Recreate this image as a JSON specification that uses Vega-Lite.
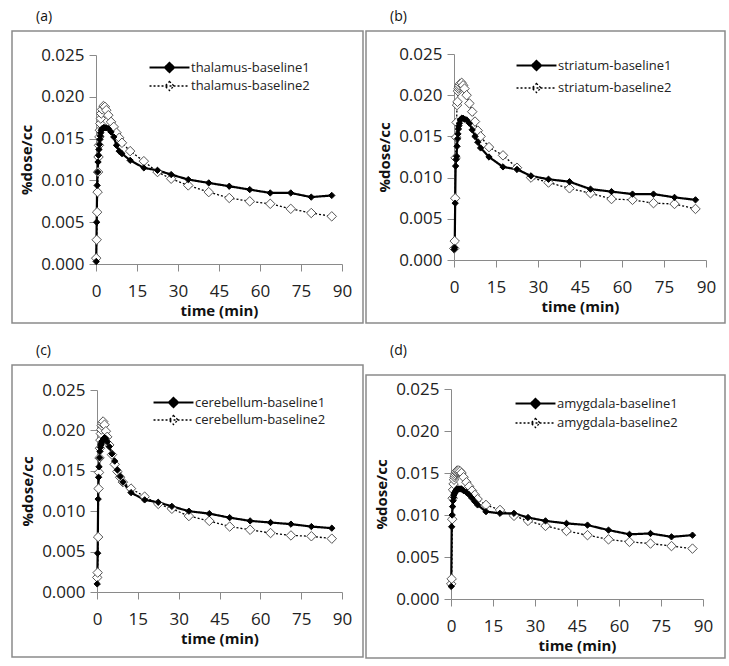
{
  "$schema": "https://vega.github.io/schema/vega-lite/v6.json",
  "background": "white",
  "padding": {"left": 11, "top": 9, "right": 0, "bottom": 0},
  "config": {
    "font": "Open Sans",
    "view": {"stroke": "#8a8a8a", "strokeWidth": 1.5, "fill": "white"},
    "axis": {"domainColor": "#8a8a8a", "tickColor": "#8a8a8a", "domainWidth": 1, "tickWidth": 1, "tickSize": 7, "grid": false,
      "labelFont": "Open Sans", "labelFontSize": 17, "labelColor": "#222", "titleFont": "Open Sans", "titleFontSize": 15, "titleFontWeight": "bold", "titleColor": "#111", "labelOverlap": false, "labelFlush": false},
    "legend": {"title": null, "orient": "none", "padding": 0, "symbolType": "M-3.33,0H3.33M0,-0.75L0.75,0L0,0.75L-0.75,0Z", "symbolSize": 144, "symbolStrokeColor": "black", "symbolStrokeWidth": 1.6, "labelFont": "Open Sans", "labelFontSize": 13, "labelColor": "#222", "labelOffset": 14},
    "title": {"font": "Open Sans", "fontSize": 14, "fontWeight": "normal", "color": "#111", "anchor": "start", "dx": 24, "offset": 7}
  },
  "datasets": {
    "a": [
      {"t": 0.08, "thalamus-baseline1": 0.0003, "thalamus-baseline2": 0.0007},
      {"t": 0.25, "thalamus-baseline1": 0.0050, "thalamus-baseline2": 0.0029},
      {"t": 0.42, "thalamus-baseline1": 0.0094, "thalamus-baseline2": 0.0062},
      {"t": 0.58, "thalamus-baseline1": 0.0110, "thalamus-baseline2": 0.0086},
      {"t": 0.75, "thalamus-baseline1": 0.0122, "thalamus-baseline2": 0.0110},
      {"t": 0.92, "thalamus-baseline1": 0.0130, "thalamus-baseline2": 0.0128},
      {"t": 1.08, "thalamus-baseline1": 0.0137, "thalamus-baseline2": 0.0142},
      {"t": 1.25, "thalamus-baseline1": 0.0143, "thalamus-baseline2": 0.0152},
      {"t": 1.42, "thalamus-baseline1": 0.0149, "thalamus-baseline2": 0.0160},
      {"t": 1.58, "thalamus-baseline1": 0.0153, "thalamus-baseline2": 0.0168},
      {"t": 1.75, "thalamus-baseline1": 0.0157, "thalamus-baseline2": 0.0174},
      {"t": 1.92, "thalamus-baseline1": 0.0160, "thalamus-baseline2": 0.0180},
      {"t": 2.25, "thalamus-baseline1": 0.0162, "thalamus-baseline2": 0.0185},
      {"t": 2.75, "thalamus-baseline1": 0.0163, "thalamus-baseline2": 0.0189},
      {"t": 3.25, "thalamus-baseline1": 0.0163, "thalamus-baseline2": 0.0188},
      {"t": 3.75, "thalamus-baseline1": 0.0163, "thalamus-baseline2": 0.0184},
      {"t": 4.5, "thalamus-baseline1": 0.0162, "thalamus-baseline2": 0.0178},
      {"t": 5.5, "thalamus-baseline1": 0.0158, "thalamus-baseline2": 0.0170},
      {"t": 6.5, "thalamus-baseline1": 0.0152, "thalamus-baseline2": 0.0164},
      {"t": 7.5, "thalamus-baseline1": 0.0142, "thalamus-baseline2": 0.0157},
      {"t": 8.5, "thalamus-baseline1": 0.0135, "thalamus-baseline2": 0.0151},
      {"t": 9.5, "thalamus-baseline1": 0.0132, "thalamus-baseline2": 0.0145},
      {"t": 12.5, "thalamus-baseline1": 0.0124, "thalamus-baseline2": 0.0135},
      {"t": 17.5, "thalamus-baseline1": 0.0115, "thalamus-baseline2": 0.0123},
      {"t": 22.5, "thalamus-baseline1": 0.0112, "thalamus-baseline2": 0.0110},
      {"t": 27.5, "thalamus-baseline1": 0.0107, "thalamus-baseline2": 0.0102},
      {"t": 33.75, "thalamus-baseline1": 0.0101, "thalamus-baseline2": 0.0094},
      {"t": 41.25, "thalamus-baseline1": 0.0097, "thalamus-baseline2": 0.0086},
      {"t": 48.75, "thalamus-baseline1": 0.0093, "thalamus-baseline2": 0.0079},
      {"t": 56.25, "thalamus-baseline1": 0.0089, "thalamus-baseline2": 0.0075},
      {"t": 63.75, "thalamus-baseline1": 0.0085, "thalamus-baseline2": 0.0072},
      {"t": 71.25, "thalamus-baseline1": 0.0085, "thalamus-baseline2": 0.0066},
      {"t": 78.75, "thalamus-baseline1": 0.0080, "thalamus-baseline2": 0.0061},
      {"t": 86.25, "thalamus-baseline1": 0.0082, "thalamus-baseline2": 0.0057}
    ],
    "b": [
      {"t": 0.08, "striatum-baseline1": 0.0013, "striatum-baseline2": 0.0014},
      {"t": 0.25, "striatum-baseline1": 0.0015, "striatum-baseline2": 0.0023},
      {"t": 0.42, "striatum-baseline1": 0.0069, "striatum-baseline2": 0.0075},
      {"t": 0.58, "striatum-baseline1": 0.0114, "striatum-baseline2": 0.0124},
      {"t": 0.75, "striatum-baseline1": 0.0122, "striatum-baseline2": 0.0149},
      {"t": 0.92, "striatum-baseline1": 0.0126, "striatum-baseline2": 0.0167},
      {"t": 1.08, "striatum-baseline1": 0.0138, "striatum-baseline2": 0.0188},
      {"t": 1.25, "striatum-baseline1": 0.0147, "striatum-baseline2": 0.0192},
      {"t": 1.42, "striatum-baseline1": 0.0153, "striatum-baseline2": 0.0205},
      {"t": 1.58, "striatum-baseline1": 0.0159, "striatum-baseline2": 0.0208},
      {"t": 1.75, "striatum-baseline1": 0.0163, "striatum-baseline2": 0.0210},
      {"t": 1.92, "striatum-baseline1": 0.0166, "striatum-baseline2": 0.0212},
      {"t": 2.25, "striatum-baseline1": 0.0170, "striatum-baseline2": 0.0214},
      {"t": 2.75, "striatum-baseline1": 0.0172, "striatum-baseline2": 0.0215},
      {"t": 3.25, "striatum-baseline1": 0.0172, "striatum-baseline2": 0.0212},
      {"t": 3.75, "striatum-baseline1": 0.0171, "striatum-baseline2": 0.0208},
      {"t": 4.5, "striatum-baseline1": 0.0170, "striatum-baseline2": 0.0200},
      {"t": 5.5, "striatum-baseline1": 0.0166, "striatum-baseline2": 0.0190},
      {"t": 6.5, "striatum-baseline1": 0.0158, "striatum-baseline2": 0.0180},
      {"t": 7.5, "striatum-baseline1": 0.0150, "striatum-baseline2": 0.0168},
      {"t": 8.5, "striatum-baseline1": 0.0143, "striatum-baseline2": 0.0157},
      {"t": 9.5, "striatum-baseline1": 0.0136, "striatum-baseline2": 0.0150},
      {"t": 12.5, "striatum-baseline1": 0.0125, "striatum-baseline2": 0.0137},
      {"t": 17.5, "striatum-baseline1": 0.0113, "striatum-baseline2": 0.0127},
      {"t": 22.5, "striatum-baseline1": 0.0110, "striatum-baseline2": 0.0112},
      {"t": 27.5, "striatum-baseline1": 0.0102, "striatum-baseline2": 0.0100},
      {"t": 33.75, "striatum-baseline1": 0.0098, "striatum-baseline2": 0.0094},
      {"t": 41.25, "striatum-baseline1": 0.0095, "striatum-baseline2": 0.0087},
      {"t": 48.75, "striatum-baseline1": 0.0086, "striatum-baseline2": 0.0081},
      {"t": 56.25, "striatum-baseline1": 0.0083, "striatum-baseline2": 0.0074},
      {"t": 63.75, "striatum-baseline1": 0.0080, "striatum-baseline2": 0.0073},
      {"t": 71.25, "striatum-baseline1": 0.0080, "striatum-baseline2": 0.0069},
      {"t": 78.75, "striatum-baseline1": 0.0076, "striatum-baseline2": 0.0068},
      {"t": 86.25, "striatum-baseline1": 0.0073, "striatum-baseline2": 0.0062}
    ],
    "c": [
      {"t": 0.08, "cerebellum-baseline1": 0.0010, "cerebellum-baseline2": 0.0018},
      {"t": 0.25, "cerebellum-baseline1": 0.0048, "cerebellum-baseline2": 0.0024},
      {"t": 0.42, "cerebellum-baseline1": 0.0115, "cerebellum-baseline2": 0.0068},
      {"t": 0.58, "cerebellum-baseline1": 0.0142, "cerebellum-baseline2": 0.0128},
      {"t": 0.75, "cerebellum-baseline1": 0.0155, "cerebellum-baseline2": 0.0148},
      {"t": 0.92, "cerebellum-baseline1": 0.0166, "cerebellum-baseline2": 0.0166},
      {"t": 1.08, "cerebellum-baseline1": 0.0174, "cerebellum-baseline2": 0.0178},
      {"t": 1.25, "cerebellum-baseline1": 0.0179, "cerebellum-baseline2": 0.0188},
      {"t": 1.42, "cerebellum-baseline1": 0.0182, "cerebellum-baseline2": 0.0196},
      {"t": 1.58, "cerebellum-baseline1": 0.0184, "cerebellum-baseline2": 0.0201},
      {"t": 1.75, "cerebellum-baseline1": 0.0186, "cerebellum-baseline2": 0.0206},
      {"t": 1.92, "cerebellum-baseline1": 0.0187, "cerebellum-baseline2": 0.0209},
      {"t": 2.25, "cerebellum-baseline1": 0.0189, "cerebellum-baseline2": 0.0211},
      {"t": 2.75, "cerebellum-baseline1": 0.0191, "cerebellum-baseline2": 0.0207},
      {"t": 3.25, "cerebellum-baseline1": 0.0190, "cerebellum-baseline2": 0.0199},
      {"t": 3.75, "cerebellum-baseline1": 0.0186, "cerebellum-baseline2": 0.0192},
      {"t": 4.5, "cerebellum-baseline1": 0.0180, "cerebellum-baseline2": 0.0182},
      {"t": 5.5, "cerebellum-baseline1": 0.0171, "cerebellum-baseline2": 0.0170},
      {"t": 6.5, "cerebellum-baseline1": 0.0162, "cerebellum-baseline2": 0.0158},
      {"t": 7.5, "cerebellum-baseline1": 0.0151, "cerebellum-baseline2": 0.0149},
      {"t": 8.5, "cerebellum-baseline1": 0.0143, "cerebellum-baseline2": 0.0142},
      {"t": 9.5, "cerebellum-baseline1": 0.0136, "cerebellum-baseline2": 0.0136},
      {"t": 12.5, "cerebellum-baseline1": 0.0123, "cerebellum-baseline2": 0.0128},
      {"t": 17.5, "cerebellum-baseline1": 0.0114, "cerebellum-baseline2": 0.0118},
      {"t": 22.5, "cerebellum-baseline1": 0.0111, "cerebellum-baseline2": 0.0109},
      {"t": 27.5, "cerebellum-baseline1": 0.0106, "cerebellum-baseline2": 0.0103},
      {"t": 33.75, "cerebellum-baseline1": 0.0100, "cerebellum-baseline2": 0.0094},
      {"t": 41.25, "cerebellum-baseline1": 0.0097, "cerebellum-baseline2": 0.0088},
      {"t": 48.75, "cerebellum-baseline1": 0.0092, "cerebellum-baseline2": 0.0081},
      {"t": 56.25, "cerebellum-baseline1": 0.0088, "cerebellum-baseline2": 0.0077},
      {"t": 63.75, "cerebellum-baseline1": 0.0086, "cerebellum-baseline2": 0.0073},
      {"t": 71.25, "cerebellum-baseline1": 0.0084, "cerebellum-baseline2": 0.0070},
      {"t": 78.75, "cerebellum-baseline1": 0.0081, "cerebellum-baseline2": 0.0069},
      {"t": 86.25, "cerebellum-baseline1": 0.0079, "cerebellum-baseline2": 0.0066}
    ],
    "d": [
      {"t": 0.08, "amygdala-baseline1": 0.0015, "amygdala-baseline2": 0.0018},
      {"t": 0.25, "amygdala-baseline1": 0.0086, "amygdala-baseline2": 0.0024},
      {"t": 0.42, "amygdala-baseline1": 0.0100, "amygdala-baseline2": 0.0095},
      {"t": 0.58, "amygdala-baseline1": 0.0110, "amygdala-baseline2": 0.0120},
      {"t": 0.75, "amygdala-baseline1": 0.0117, "amygdala-baseline2": 0.0130},
      {"t": 0.92, "amygdala-baseline1": 0.0121, "amygdala-baseline2": 0.0137},
      {"t": 1.08, "amygdala-baseline1": 0.0124, "amygdala-baseline2": 0.0142},
      {"t": 1.25, "amygdala-baseline1": 0.0126, "amygdala-baseline2": 0.0145},
      {"t": 1.42, "amygdala-baseline1": 0.0127, "amygdala-baseline2": 0.0147},
      {"t": 1.58, "amygdala-baseline1": 0.0128, "amygdala-baseline2": 0.0149},
      {"t": 1.75, "amygdala-baseline1": 0.0129, "amygdala-baseline2": 0.0151},
      {"t": 1.92, "amygdala-baseline1": 0.0130, "amygdala-baseline2": 0.0152},
      {"t": 2.25, "amygdala-baseline1": 0.0131, "amygdala-baseline2": 0.0153},
      {"t": 2.75, "amygdala-baseline1": 0.0131, "amygdala-baseline2": 0.0153},
      {"t": 3.25, "amygdala-baseline1": 0.0131, "amygdala-baseline2": 0.0152},
      {"t": 3.75, "amygdala-baseline1": 0.0131, "amygdala-baseline2": 0.0150},
      {"t": 4.5, "amygdala-baseline1": 0.0129, "amygdala-baseline2": 0.0145},
      {"t": 5.5, "amygdala-baseline1": 0.0127, "amygdala-baseline2": 0.0139},
      {"t": 6.5, "amygdala-baseline1": 0.0124, "amygdala-baseline2": 0.0134},
      {"t": 7.5, "amygdala-baseline1": 0.0120, "amygdala-baseline2": 0.0129},
      {"t": 8.5, "amygdala-baseline1": 0.0116, "amygdala-baseline2": 0.0124},
      {"t": 9.5, "amygdala-baseline1": 0.0112, "amygdala-baseline2": 0.0119},
      {"t": 12.5, "amygdala-baseline1": 0.0104, "amygdala-baseline2": 0.0112},
      {"t": 17.5, "amygdala-baseline1": 0.0102, "amygdala-baseline2": 0.0106},
      {"t": 22.5, "amygdala-baseline1": 0.0102, "amygdala-baseline2": 0.0099},
      {"t": 27.5, "amygdala-baseline1": 0.0097, "amygdala-baseline2": 0.0093},
      {"t": 33.75, "amygdala-baseline1": 0.0093, "amygdala-baseline2": 0.0087},
      {"t": 41.25, "amygdala-baseline1": 0.0090, "amygdala-baseline2": 0.0081},
      {"t": 48.75, "amygdala-baseline1": 0.0088, "amygdala-baseline2": 0.0076},
      {"t": 56.25, "amygdala-baseline1": 0.0082, "amygdala-baseline2": 0.0071},
      {"t": 63.75, "amygdala-baseline1": 0.0077, "amygdala-baseline2": 0.0068},
      {"t": 71.25, "amygdala-baseline1": 0.0078, "amygdala-baseline2": 0.0066},
      {"t": 78.75, "amygdala-baseline1": 0.0074, "amygdala-baseline2": 0.0063},
      {"t": 86.25, "amygdala-baseline1": 0.0076, "amygdala-baseline2": 0.0060}
    ]
  },
  "columns": 2,
  "align": "none",
  "spacing": {"row": 19, "column": 1},
  "resolve": {"scale": {"strokeDash": "independent", "strokeWidth": "independent"}, "legend": {"strokeDash": "independent"}},
  "concat": [
    {
      "width": 351, "height": 292,
      "title": {"text": "(a)"},
      "data": {"name": "a"},
      "transform": [{"fold": ["thalamus-baseline1", "thalamus-baseline2"], "as": ["s", "v"]}],
      "encoding": {
        "x": {"field": "t", "type": "quantitative", "scale": {"domain": [0, 90], "range": [84, 330], "nice": false, "zero": false},
          "axis": {"title": "time (min)", "values": [0, 15, 30, 45, 60, 75, 90], "offset": -59, "labelPadding": 12, "titlePadding": 4}},
        "y": {"field": "v", "type": "quantitative", "scale": {"domain": [0, 0.025], "range": [233, 24], "nice": false},
          "axis": {"title": "%dose/cc", "values": [0, 0.005, 0.01, 0.015, 0.02, 0.025], "format": ".3f", "offset": -84, "labelPadding": 5, "titlePadding": 6}}
      },
      "layer": [
        {"mark": {"type": "line", "color": "black"},
          "encoding": {
            "strokeDash": {"field": "s", "type": "nominal", "scale": {"domain": ["thalamus-baseline1", "thalamus-baseline2"], "range": [[1, 0], [2, 2]]},
              "legend": {"legendX": 150, "legendY": 29, "rowPadding": 1,
                "encode": {"symbols": {"update": {"stroke": {"value": "black"}, "fill": {"signal": "indexof(datum.value, 'baseline1') >= 0 ? 'black' : 'white'"}, "strokeWidth": {"signal": "indexof(datum.value, 'baseline1') >= 0 ? 2 : 1.3"}}}}}},
            "strokeWidth": {"field": "s", "type": "ordinal", "scale": {"domain": ["thalamus-baseline1", "thalamus-baseline2"], "range": [2.2, 1.3]}, "legend": null}
          }},
        {"transform": [{"filter": "datum.s == 'thalamus-baseline2'"}],
          "mark": {"type": "point", "shape": "diamond", "filled": true, "fill": "white", "stroke": "#555", "strokeWidth": 1, "size": 90, "opacity": 1}},
        {"transform": [{"filter": "datum.s == 'thalamus-baseline1'"}],
          "mark": {"type": "point", "shape": "diamond", "filled": true, "fill": "black", "stroke": "black", "strokeWidth": 1, "size": 40, "opacity": 1}}
      ]
    },
    {
      "width": 359, "height": 292,
      "title": {"text": "(b)"},
      "data": {"name": "b"},
      "transform": [{"fold": ["striatum-baseline1", "striatum-baseline2"], "as": ["s", "v"]}],
      "encoding": {
        "x": {"field": "t", "type": "quantitative", "scale": {"domain": [0, 90], "range": [88, 340], "nice": false, "zero": false},
          "axis": {"title": "time (min)", "values": [0, 15, 30, 45, 60, 75, 90], "offset": -63, "labelPadding": 12, "titlePadding": 4}},
        "y": {"field": "v", "type": "quantitative", "scale": {"domain": [0, 0.025], "range": [229, 23], "nice": false},
          "axis": {"title": "%dose/cc", "values": [0, 0.005, 0.01, 0.015, 0.02, 0.025], "format": ".3f", "offset": -88, "labelPadding": 5, "titlePadding": 6}}
      },
      "layer": [
        {"mark": {"type": "line", "color": "black"},
          "encoding": {
            "strokeDash": {"field": "s", "type": "nominal", "scale": {"domain": ["striatum-baseline1", "striatum-baseline2"], "range": [[1, 0], [2, 2]]},
              "legend": {"legendX": 163, "legendY": 27, "rowPadding": 5,
                "encode": {"symbols": {"update": {"stroke": {"value": "black"}, "fill": {"signal": "indexof(datum.value, 'baseline1') >= 0 ? 'black' : 'white'"}, "strokeWidth": {"signal": "indexof(datum.value, 'baseline1') >= 0 ? 2 : 1.3"}}}}}},
            "strokeWidth": {"field": "s", "type": "ordinal", "scale": {"domain": ["striatum-baseline1", "striatum-baseline2"], "range": [2.2, 1.3]}, "legend": null}
          }},
        {"transform": [{"filter": "datum.s == 'striatum-baseline2'"}],
          "mark": {"type": "point", "shape": "diamond", "filled": true, "fill": "white", "stroke": "#555", "strokeWidth": 1, "size": 90, "opacity": 1}},
        {"transform": [{"filter": "datum.s == 'striatum-baseline1'"}],
          "mark": {"type": "point", "shape": "diamond", "filled": true, "fill": "black", "stroke": "black", "strokeWidth": 1, "size": 40, "opacity": 1}}
      ]
    },
    {
      "width": 351, "height": 292,
      "title": {"text": "(c)"},
      "data": {"name": "c"},
      "transform": [{"fold": ["cerebellum-baseline1", "cerebellum-baseline2"], "as": ["s", "v"]}],
      "encoding": {
        "x": {"field": "t", "type": "quantitative", "scale": {"domain": [0, 90], "range": [85, 330], "nice": false, "zero": false},
          "axis": {"title": "time (min)", "values": [0, 15, 30, 45, 60, 75, 90], "offset": -65, "labelPadding": 12, "titlePadding": 4}},
        "y": {"field": "v", "type": "quantitative", "scale": {"domain": [0, 0.025], "range": [227, 25], "nice": false},
          "axis": {"title": "%dose/cc", "values": [0, 0.005, 0.01, 0.015, 0.02, 0.025], "format": ".3f", "offset": -85, "labelPadding": 5, "titlePadding": 6}}
      },
      "layer": [
        {"mark": {"type": "line", "color": "black"},
          "encoding": {
            "strokeDash": {"field": "s", "type": "nominal", "scale": {"domain": ["cerebellum-baseline1", "cerebellum-baseline2"], "range": [[1, 0], [2, 2]]},
              "legend": {"legendX": 154, "legendY": 30, "rowPadding": 0,
                "encode": {"symbols": {"update": {"stroke": {"value": "black"}, "fill": {"signal": "indexof(datum.value, 'baseline1') >= 0 ? 'black' : 'white'"}, "strokeWidth": {"signal": "indexof(datum.value, 'baseline1') >= 0 ? 2 : 1.3"}}}}}},
            "strokeWidth": {"field": "s", "type": "ordinal", "scale": {"domain": ["cerebellum-baseline1", "cerebellum-baseline2"], "range": [2.2, 1.3]}, "legend": null}
          }},
        {"transform": [{"filter": "datum.s == 'cerebellum-baseline2'"}],
          "mark": {"type": "point", "shape": "diamond", "filled": true, "fill": "white", "stroke": "#555", "strokeWidth": 1, "size": 90, "opacity": 1}},
        {"transform": [{"filter": "datum.s == 'cerebellum-baseline1'"}],
          "mark": {"type": "point", "shape": "diamond", "filled": true, "fill": "black", "stroke": "black", "strokeWidth": 1, "size": 40, "opacity": 1}}
      ]
    },
    {
      "width": 359, "height": 283,
      "title": {"text": "(d)", "offset": 17},
      "data": {"name": "d"},
      "transform": [{"fold": ["amygdala-baseline1", "amygdala-baseline2"], "as": ["s", "v"]}],
      "encoding": {
        "x": {"field": "t", "type": "quantitative", "scale": {"domain": [0, 90], "range": [85, 337], "nice": false, "zero": false},
          "axis": {"title": "time (min)", "values": [0, 15, 30, 45, 60, 75, 90], "offset": -59, "labelPadding": 12, "titlePadding": 4}},
        "y": {"field": "v", "type": "quantitative", "scale": {"domain": [0, 0.025], "range": [224, 14], "nice": false},
          "axis": {"title": "%dose/cc", "values": [0, 0.005, 0.01, 0.015, 0.02, 0.025], "format": ".3f", "offset": -85, "labelPadding": 5, "titlePadding": 6}}
      },
      "layer": [
        {"mark": {"type": "line", "color": "black"},
          "encoding": {
            "strokeDash": {"field": "s", "type": "nominal", "scale": {"domain": ["amygdala-baseline1", "amygdala-baseline2"], "range": [[1, 0], [2, 2]]},
              "legend": {"legendX": 162, "legendY": 21, "rowPadding": 2,
                "encode": {"symbols": {"update": {"stroke": {"value": "black"}, "fill": {"signal": "indexof(datum.value, 'baseline1') >= 0 ? 'black' : 'white'"}, "strokeWidth": {"signal": "indexof(datum.value, 'baseline1') >= 0 ? 2 : 1.3"}}}}}},
            "strokeWidth": {"field": "s", "type": "ordinal", "scale": {"domain": ["amygdala-baseline1", "amygdala-baseline2"], "range": [2.2, 1.3]}, "legend": null}
          }},
        {"transform": [{"filter": "datum.s == 'amygdala-baseline2'"}],
          "mark": {"type": "point", "shape": "diamond", "filled": true, "fill": "white", "stroke": "#555", "strokeWidth": 1, "size": 90, "opacity": 1}},
        {"transform": [{"filter": "datum.s == 'amygdala-baseline1'"}],
          "mark": {"type": "point", "shape": "diamond", "filled": true, "fill": "black", "stroke": "black", "strokeWidth": 1, "size": 40, "opacity": 1}}
      ]
    }
  ]
}
